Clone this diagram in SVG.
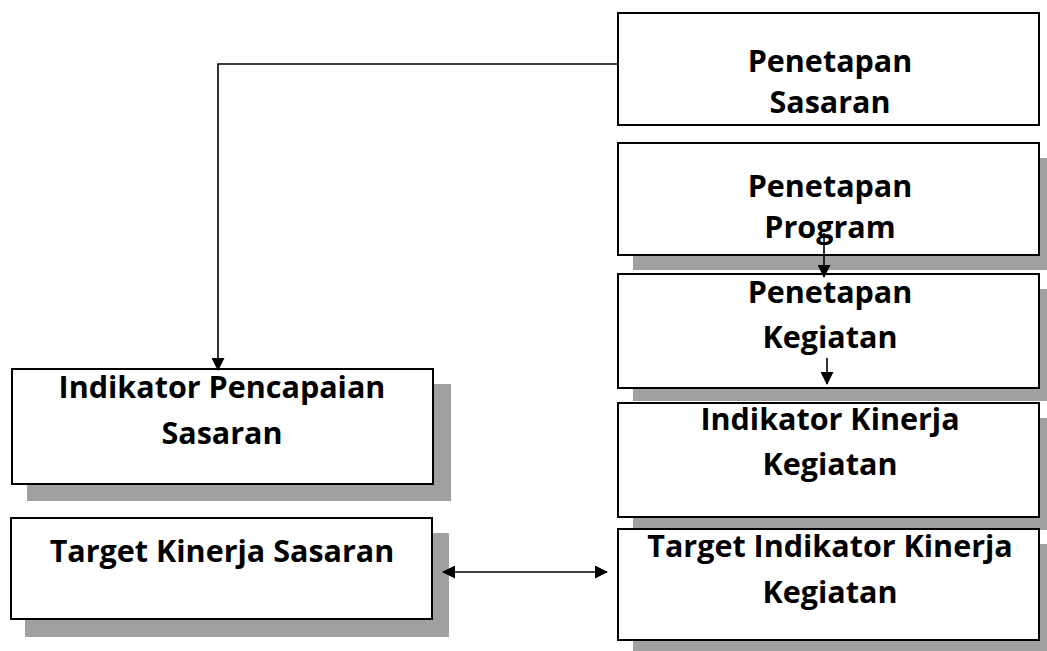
<svg xmlns="http://www.w3.org/2000/svg" width="1047" height="651" viewBox="0 0 1047 651">
<style>
.box{fill:#fff;stroke:#000;stroke-width:2}
.sh{fill:#a0a0a0}
.t{font-family:"Open Sans","Liberation Sans",sans-serif;font-weight:bold;font-size:30.5px;text-anchor:middle;fill:#000}
.c{fill:none;stroke:#000;stroke-width:1.6}
</style>
<defs>
<marker id="ah" markerWidth="13" markerHeight="13" refX="12" refY="6.5" orient="auto-start-reverse" markerUnits="userSpaceOnUse">
<path d="M0,0 L13,6.5 L0,13 z" fill="#000"/>
</marker>
</defs>
<rect width="1047" height="651" fill="#fff"/>
<g id="n1">
<rect class="box" x="618" y="13" width="421" height="112"/>
<text class="t" x="830" y="72">Penetapan</text>
<text class="t" x="830" y="113">Sasaran</text>
</g>
<g id="n2">
<rect class="sh" x="633" y="158" width="421" height="112"/>
<rect class="box" x="618" y="143" width="421" height="112"/>
<text class="t" x="830" y="197">Penetapan</text>
<text class="t" x="830" y="238">Program</text>
</g>
<g id="n3">
<rect class="sh" x="633" y="289" width="421" height="112"/>
<rect class="box" x="618" y="274" width="421" height="114"/>
<text class="t" x="830" y="303">Penetapan</text>
<text class="t" x="830" y="348">Kegiatan</text>
</g>
<g id="n4">
<rect class="sh" x="633" y="418" width="421" height="112"/>
<rect class="box" x="618" y="403" width="421" height="114"/>
<text class="t" x="830" y="430">Indikator Kinerja</text>
<text class="t" x="830" y="475">Kegiatan</text>
</g>
<g id="n5">
<rect class="sh" x="633" y="544" width="421" height="112"/>
<rect class="box" x="618" y="529" width="421" height="111"/>
<text class="t" x="830" y="557">Target Indikator Kinerja</text>
<text class="t" x="830" y="603">Kegiatan</text>
</g>
<g id="n6">
<rect class="sh" x="27" y="384" width="424" height="117"/>
<rect class="box" x="12" y="369" width="421" height="115"/>
<text class="t" x="222" y="398">Indikator Pencapaian</text>
<text class="t" x="222" y="444">Sasaran</text>
</g>
<g id="n7">
<rect class="sh" x="25" y="533" width="424" height="104"/>
<rect class="box" x="11" y="518" width="421" height="101"/>
<text class="t" x="222" y="562">Target Kinerja Sasaran</text>
</g>
<g id="connectors">
<polyline class="c" points="618,64 218,64 218,370" marker-end="url(#ah)"/>
<line class="c" x1="824" y1="233" x2="824" y2="277" marker-end="url(#ah)"/>
<line class="c" x1="827" y1="358" x2="827" y2="384" marker-end="url(#ah)"/>
<line class="c" x1="443" y1="572" x2="607" y2="572" marker-start="url(#ah)" marker-end="url(#ah)"/>
</g>
</svg>
